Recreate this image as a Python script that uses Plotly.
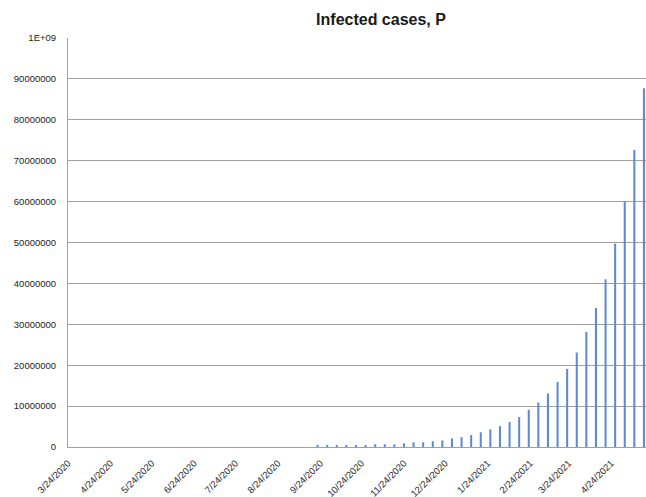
import plotly.graph_objects as go
import pandas as pd

# Weekly dates (from 9/22/2020) and infected cases (millions)
dates = pd.date_range("2020-09-22", periods=35, freq="7D")
cases_m = [0.33, 0.33, 0.33, 0.33, 0.33, 0.33, 0.65, 0.65, 0.65, 0.9,
           1.15, 1.15, 1.4, 1.6, 2.1, 2.4, 2.9, 3.6, 4.3, 5.1,
           6.1, 7.3, 9.1, 10.9, 13.1, 15.9, 19.1, 23.1, 28.1, 34.0,
           41.0, 49.7, 60.0, 72.6, 87.7]
cases = [v * 1e6 for v in cases_m]

x_tick_dates = ["2020-03-24", "2020-04-24", "2020-05-24", "2020-06-24", "2020-07-24",
                "2020-08-24", "2020-09-24", "2020-10-24", "2020-11-24", "2020-12-24",
                "2021-01-24", "2021-02-24", "2021-03-24", "2021-04-24"]
x_tick_text = ["3/24/2020", "4/24/2020", "5/24/2020", "6/24/2020", "7/24/2020",
               "8/24/2020", "9/24/2020", "10/24/2020", "11/24/2020", "12/24/2020",
               "1/24/2021", "2/24/2021", "3/24/2021", "4/24/2021"]
y_tick_vals = [0, 1e7, 2e7, 3e7, 4e7, 5e7, 6e7, 7e7, 8e7, 9e7, 1e8]
y_tick_text = ["0", "10000000", "20000000", "30000000", "40000000", "50000000",
               "60000000", "70000000", "80000000", "90000000", "1E+09"]

W, H = 646, 497

fig = go.Figure(go.Bar(
    x=dates, y=cases,
    width=1.5 * 86400000,
    marker=dict(color="#5f8bc8", line=dict(width=0)),
))

fig.update_layout(
    width=W, height=H,
    margin=dict(l=68, r=0, t=38, b=50, autoexpand=False),
    paper_bgcolor="white", plot_bgcolor="white",
    showlegend=False,
    title=dict(text="<b>Infected cases, P</b>", x=381 / W, xanchor="center",
               y=1 - 19 / H, yanchor="middle",
               font=dict(family="Liberation Sans", size=16, color="#1a1a1a")),
    font=dict(family="Liberation Sans", size=9.5, color="#222222"),
)
fig.update_xaxes(
    type="date",
    range=["2020-03-24", "2021-05-19 12:00"],
    tickvals=x_tick_dates, ticktext=x_tick_text,
    tickangle=-45,
    tickfont=dict(size=9.5, color="#2a2a2a"),
    showgrid=False,
    showline=True, linecolor="#a0a0a0", linewidth=1,
    ticks="", zeroline=False, ticklabelstandoff=6,
)
fig.update_yaxes(
    range=[0, 1e8],
    tickvals=y_tick_vals, ticktext=y_tick_text,
    tickfont=dict(size=9.5, color="#222222"),
    showgrid=True, gridcolor="#a0a0a0", gridwidth=1,
    showline=True, linecolor="#a0a0a0", linewidth=1,
    ticks="", ticklabelstandoff=9, zeroline=False,
)

fig.write_html(
    "out.html",
    config={"displayModeBar": False},
    post_script="document.body.style.margin='0';document.body.style.overflow='hidden';",
)
